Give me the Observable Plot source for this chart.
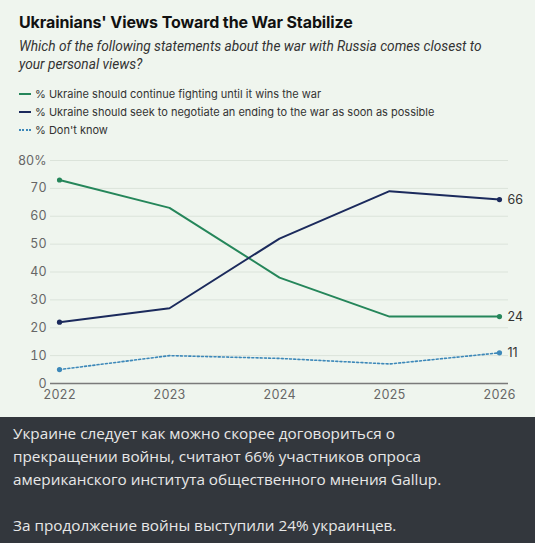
<!DOCTYPE html>
<html>
<head>
<meta charset="utf-8">
<script src="https://cdn.jsdelivr.net/npm/d3@7"></script>
<script src="https://cdn.jsdelivr.net/npm/@observablehq/plot@0.6"></script>
<style>
  html, body { margin: 0; padding: 0; }
  body { width: 535px; height: 543px; background: #eff5ee; position: relative; overflow: hidden; font-family: Inter, "Noto Sans", sans-serif; }
  .abs { position: absolute; left: 19px; white-space: nowrap; }
  #title { top: 12px; font-size: 16px; line-height: 20px; font-weight: 700; color: #111; letter-spacing: -0.1px; }
  #subtitle { top: 37px; font-family: Roboto, sans-serif; font-size: 13.7px; line-height: 18px; font-style: italic; color: #333; }
  #legend { top: 85px; font-size: 11px; line-height: 18px; color: #333; }
  .sw { display: inline-block; width: 12px; height: 0; margin-right: 4px; vertical-align: middle; position: relative; top: -1px; }
  #chart { position: absolute; left: 0; top: 148px; }
  #note { position: absolute; left: 0; top: 417px; width: 535px; height: 126px; background: #33373d; color: #e8e8e8; font-family: "Open Sans", sans-serif; font-size: 15.3px; line-height: 23px; padding: 5px 13px; box-sizing: border-box; }
</style>
</head>
<body>
<div id="title" class="abs">Ukrainians' Views Toward the War Stabilize</div>
<div id="subtitle" class="abs">Which of the following statements about the war with Russia comes closest to<br>your personal views?</div>
<div id="legend" class="abs"></div>
<div id="chart"></div>
<div id="note">Украине следует как можно скорее договориться о<br>прекращении войны, считают 66% участников опроса<br>американского института общественного мнения Gallup.<br><br>За продолжение войны выступили 24% украинцев.</div>
<script>
const years = [2022, 2023, 2024, 2025, 2026];
const seriesNames = [
  "% Ukraine should continue fighting until it wins the war",
  "% Ukraine should seek to negotiate an ending to the war as soon as possible",
  "% Don't know"
];
const fightValues = [73, 63, 38, 24, 24];
const negotiateValues = [22, 27, 52, 69, 66];
const dontKnowValues = [5, 10, 9, 7, 11];
const yTicks = [0, 10, 20, 30, 40, 50, 60, 70, 80];
const colors = ["#25865a", "#1b2a5c", "#3d88b9"];
const dashes = [null, null, "2,2.2"];

const valueSets = [fightValues, negotiateValues, dontKnowValues];
const data = [];
valueSets.forEach((vals, i) => years.forEach((y, j) => data.push({series: seriesNames[i], year: y, value: vals[j], idx: i})));
const ends = data.filter(d => d.year === years[0] || d.year === years[years.length - 1]);
const lastPts = data.filter(d => d.year === years[years.length - 1]);

// legend
const leg = document.getElementById("legend");
seriesNames.forEach((n, i) => {
  const row = document.createElement("div");
  const sw = document.createElement("span");
  sw.className = "sw";
  sw.style.borderTop = i === 2 ? `2px dotted ${colors[i]}` : `2px solid ${colors[i]}`;
  row.appendChild(sw);
  row.appendChild(document.createTextNode(n));
  leg.appendChild(row);
});

const marks = [
  Plot.ruleY(yTicks.filter(t => t > 0), {stroke: "#dbe3da", strokeWidth: 1}),
  Plot.ruleY([0], {stroke: "#7a7a7a", strokeWidth: 1.5}),
];
seriesNames.forEach((n, i) => {
  marks.push(Plot.line(data.filter(d => d.idx === i), {
    x: "year", y: "value", stroke: colors[i], strokeWidth: i === 2 ? 1.6 : 2,
    strokeDasharray: dashes[i] || undefined, curve: "linear"
  }));
});
marks.push(Plot.dot(ends, {x: "year", y: "value", fill: d => colors[d.idx], r: 2.6, stroke: null}));
marks.push(Plot.text(lastPts, {x: "year", y: "value", text: d => String(d.value), dx: 8, textAnchor: "start", fill: "#333", fontSize: 12.5}));

const plot = Plot.plot({
  width: 535,
  height: 262,
  marginLeft: 50,
  marginRight: 27,
  marginTop: 12,
  marginBottom: 27,
  style: {background: "transparent", fontFamily: "Inter, 'Noto Sans', sans-serif", overflow: "visible"},
  x: {domain: [2021.918, 2026.082], label: null},
  y: {domain: [0, 80], label: null},
  marks: [
    ...marks,
    Plot.axisX({ticks: years, tickFormat: d => String(d), tickSize: 0, tickPadding: 7, fill: "#666", fontSize: 12.5, label: null}),
    Plot.axisY({ticks: yTicks, tickFormat: d => d === 80 ? "80%" : String(d), tickSize: 0, tickPadding: 4, fill: "#666", fontSize: 12.5, label: null})
  ]
});
document.getElementById("chart").appendChild(plot);
</script>
</body>
</html>
